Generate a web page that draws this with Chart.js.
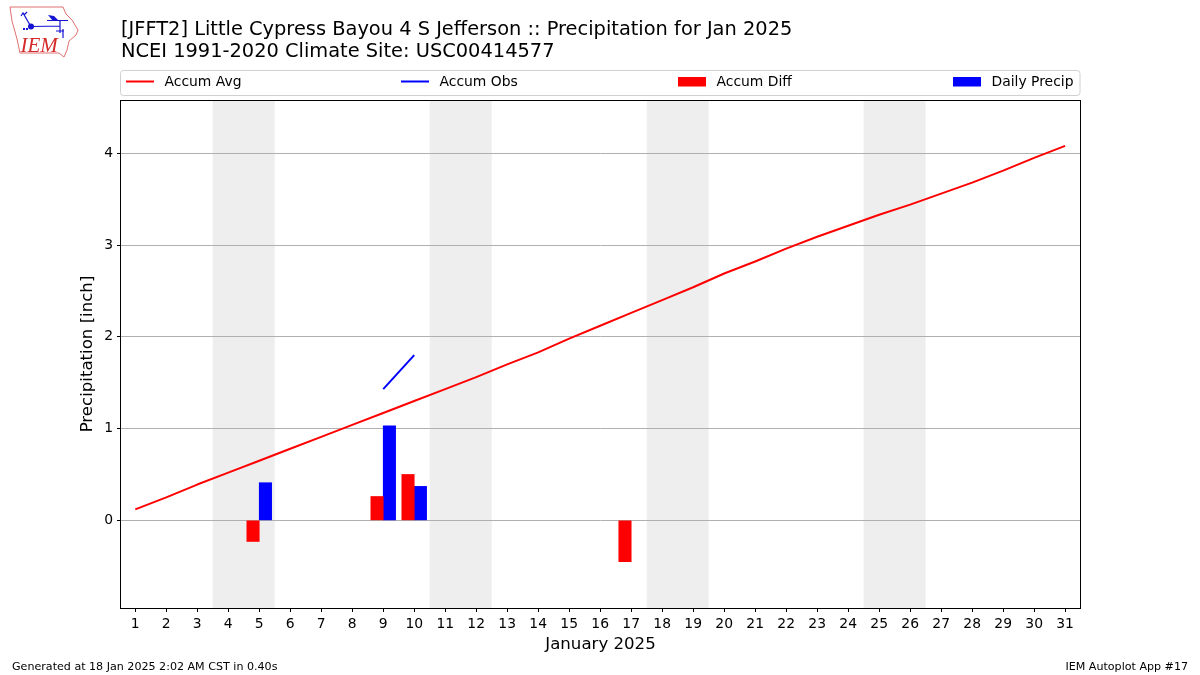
<!DOCTYPE html>
<html>
<head>
<meta charset="utf-8">
<style>html,body{margin:0;padding:0;background:#fff}canvas{display:block}</style>
<script src="https://cdn.jsdelivr.net/npm/chart.js@4/dist/chart.umd.min.js"></script>
</head>
<body>
<canvas id="c" width="1200" height="675"></canvas>
<script>
const days = [1,2,3,4,5,6,7,8,9,10,11,12,13,14,15,16,17,18,19,20,21,22,23,24,25,26,27,28,29,30,31];
const accumAvg = [0.12,0.25,0.39,0.52,0.65,0.78,0.91,1.04,1.17,1.30,1.43,1.56,1.70,1.83,1.98,2.12,2.26,2.40,2.54,2.69,2.82,2.96,3.09,3.21,3.33,3.44,3.56,3.68,3.81,3.95,4.08];
const accumObsDays = [9,10];
const accumObs = [1.43,1.80];
const accumDiffDays = [5,9,10,17];
const accumDiff = [-0.23,0.26,0.50,-0.45];
const dailyPrecipDays = [5,9,10];
const dailyPrecip = [0.41,1.03,0.37];
const yTicks = [0,1,2,3,4];
const weekends = [[3.5,5.5],[10.5,12.5],[17.5,19.5],[24.5,26.5]];
const titleLines = ["[JFFT2] Little Cypress Bayou 4 S Jefferson :: Precipitation for Jan 2025","NCEI 1991-2020 Climate Site: USC00414577"];
const FONT = '"DejaVu Sans"';

const pts = (xs, ys) => xs.map((x,i)=>({x, y:ys[i]}));

const page = {
  id:'page',
  beforeDraw(ch){
    const {ctx,chartArea:a,scales:{x}} = ch;
    ctx.save();
    ctx.fillStyle='#fff'; ctx.fillRect(0,0,ch.width,ch.height);
    ctx.fillStyle='#eeeeee';
    weekends.forEach(([s,e])=>{
      const l=x.getPixelForValue(s), r=x.getPixelForValue(e);
      ctx.fillRect(l,a.top,r-l,a.bottom-a.top);
    });
    ctx.restore();
  },
  afterDraw(ch){
    const {ctx,chartArea:a} = ch;
    ctx.save();
    // frame
    ctx.strokeStyle='#000'; ctx.lineWidth=1;
    ctx.strokeRect(120.5,100.5,960,508);
    // legend box
    ctx.strokeStyle='#d0d0d0';
    ctx.beginPath(); ctx.roundRect(120.5,70.5,959.5,25,3); ctx.stroke();
    const handles=[126,401,678,953];
    ctx.font='13.9px '+FONT; ctx.textBaseline='middle'; ctx.textAlign='left';
    ch.data.datasets.forEach((d,i)=>{
      const hx=handles[i];
      if(d.type==='line'){
        ctx.strokeStyle=d.borderColor; ctx.lineWidth=2;
        ctx.beginPath(); ctx.moveTo(hx,81.5); ctx.lineTo(hx+28,81.5); ctx.stroke();
      } else {
        ctx.fillStyle=d.backgroundColor; ctx.fillRect(hx,77,28,9.5);
      }
      ctx.fillStyle='#000';
      ctx.fillText(d.label,hx+38.5,82);
    });
    // footer
    ctx.font='11.1px '+FONT; ctx.fillStyle='#000'; ctx.textBaseline='alphabetic';
    ctx.textAlign='left'; ctx.fillText('Generated at 18 Jan 2025 2:02 AM CST in 0.40s',12,670);
    ctx.textAlign='right'; ctx.fillText('IEM Autoplot App #17',1188,670);
    // logo
    ctx.strokeStyle='#e07070'; ctx.lineWidth=1;
    ctx.beginPath();
    [[10,7],[63,7],[66,14],[72,20],[78,30],[76,35],[69,41],[67,50],[64,57],[59,53],[20,53],[17,39],[12,21]].forEach((p,i)=>i?ctx.lineTo(p[0],p[1]):ctx.moveTo(p[0],p[1]));
    ctx.closePath(); ctx.stroke();
    ctx.strokeStyle='#1414d2'; ctx.fillStyle='#1414d2'; ctx.lineWidth=1.2;
    ctx.beginPath(); ctx.moveTo(32,26.5); ctx.lineTo(60,26); ctx.moveTo(60,20); ctx.lineTo(60,33);
    ctx.moveTo(47,20.5); ctx.lineTo(68,20.5); ctx.moveTo(30,25); ctx.lineTo(23,13); ctx.lineTo(21,16); ctx.moveTo(24,15); ctx.lineTo(27,12);
    ctx.moveTo(56,31); ctx.lineTo(64,31); ctx.moveTo(63,29); ctx.lineTo(63,38);
    ctx.stroke();
    ctx.beginPath(); ctx.arc(31,26.5,3,0,Math.PI*2); ctx.fill();
    ctx.beginPath(); ctx.moveTo(48,15); ctx.lineTo(54,16); ctx.lineTo(59,21); ctx.lineTo(53,21); ctx.closePath(); ctx.fill();
    ctx.fillRect(23,28,2,2); ctx.fillRect(26,28,2,2);
    ctx.font='italic 21px "Liberation Serif"'; ctx.fillStyle='#d42a2a'; ctx.textAlign='left';
    ctx.fillText('IEM',20.5,52);
    ctx.restore();
  }
};

new Chart(document.getElementById('c'),{
  type:'bar',
  plugins:[page],
  data:{datasets:[
    {type:'line',label:'Accum Avg',data:pts(days,accumAvg),borderColor:'#ff0000',borderWidth:2,pointRadius:0,tension:0,fill:false,borderJoinStyle:'round',order:1},
    {type:'line',label:'Accum Obs',data:pts(accumObsDays,accumObs),borderColor:'#0000ff',borderWidth:2,pointRadius:0,tension:0,fill:false,order:1},
    {type:'bar',label:'Accum Diff',data:pts(accumDiffDays,accumDiff),backgroundColor:'#ff0000',barThickness:12.4,order:2},
    {type:'bar',label:'Daily Precip',data:pts(dailyPrecipDays,dailyPrecip),backgroundColor:'#0000ff',barThickness:12.4,order:2}
  ]},
  options:{
    responsive:false,animation:false,devicePixelRatio:1,
    layout:{padding:{left:0,right:120,top:19,bottom:0}},
    plugins:{
      legend:{display:false},tooltip:{enabled:false},
      title:{display:true,text:titleLines,align:'start',fullSize:false,color:'#000',
        font:{family:FONT,size:19.4,weight:'normal',lineHeight:1.134},padding:{top:0,bottom:37}}
    },
    scales:{
      x:{type:'linear',offset:false,min:0.54,max:31.48,
        afterBuildTicks(s){s.ticks=days.map(v=>({value:v}));},
        afterFit(s){s.height=67;},
        grid:{offset:false,drawOnChartArea:false,drawTicks:true,tickLength:4,tickColor:'#000',tickWidth:1},
        border:{display:false},
        ticks:{autoSkip:false,maxRotation:0,color:'#000',font:{family:FONT,size:13.9},padding:4,callback:v=>String(v)},
        title:{display:true,text:'January 2025',color:'#000',font:{family:FONT,size:16.6,weight:'normal'},padding:{top:4,bottom:20}}
      },
      y:{type:'linear',min:-0.955,max:4.58,
        afterBuildTicks(s){s.ticks=yTicks.map(v=>({value:v}));},
        afterFit(s){s.width=121;},
        grid:{color:'#b0b0b0',lineWidth:1,drawTicks:true,tickLength:4,tickColor:'#000'},
        border:{display:false},
        ticks:{color:'#000',font:{family:FONT,size:13.9},padding:4,callback:v=>String(v)},
        title:{display:true,text:'Precipitation [inch]',color:'#000',font:{family:FONT,size:16.6,weight:'normal'},padding:{top:78,bottom:0}}
      }
    }
  }
});
</script>
</body>
</html>
